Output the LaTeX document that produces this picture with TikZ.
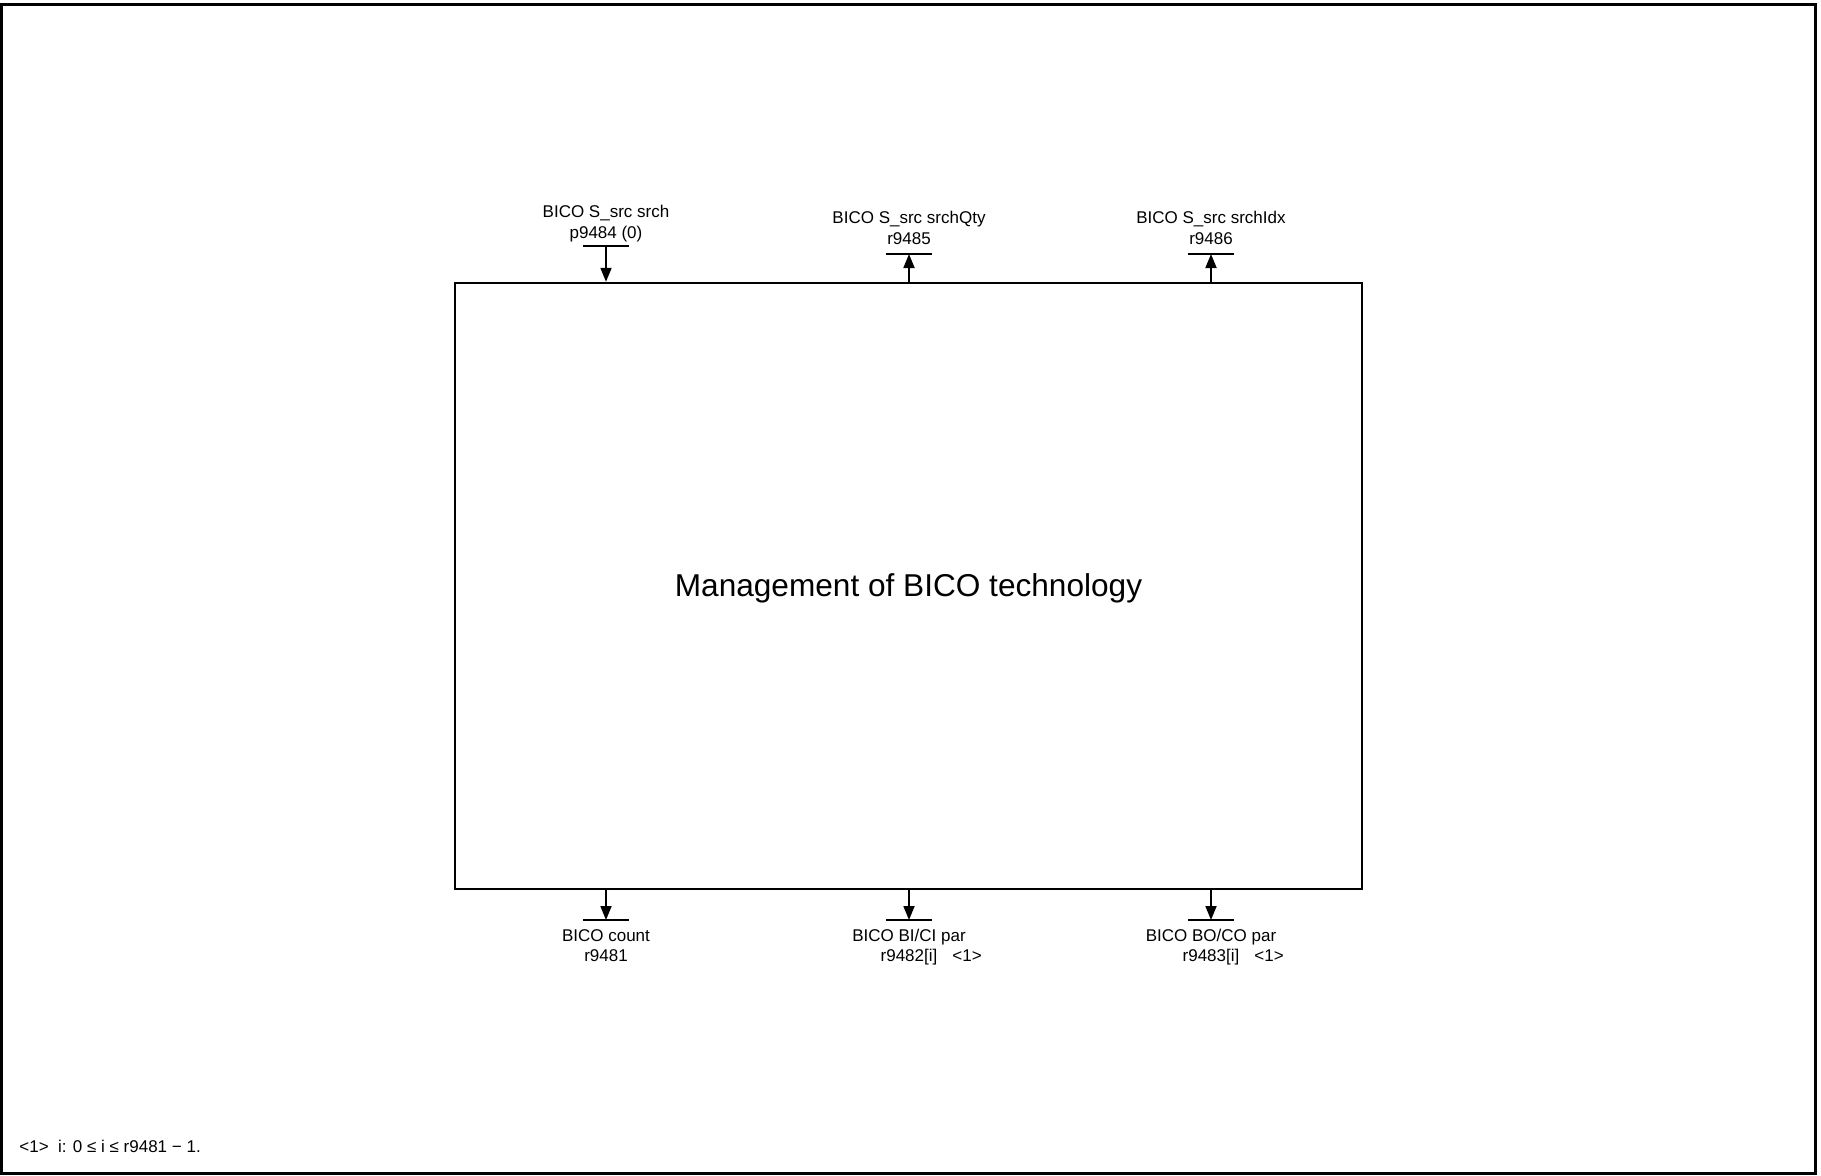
\documentclass[tikz,border=0pt]{standalone}
\usepackage{fontspec}
\setmainfont{Liberation Sans}
\usetikzlibrary{arrows.meta}
\begin{document}
\begin{tikzpicture}[x=0.5pt,y=-0.5pt,
  lbl/.style={font=\fontsize{8.5}{10.5}\selectfont, inner sep=0pt, anchor=base},
  mainbox/.style={draw, line width=1.2pt, minimum width=453.5pt, minimum height=303pt, inner sep=0pt},
  titletext/.style={font=\fontsize{15.8}{19}\selectfont, inner sep=0pt},
  barline/.style={line width=1pt},
  conn/.style={line width=0.9pt, -{Triangle[length=7pt,width=5.5pt]}},
  frameline/.style={line width=1.5pt}]
\useasboundingbox (0,0) rectangle (1821,1175);
\draw[frameline] (1.5,4.5) rectangle (1815.5,1173.5);
\node[mainbox] (box) at (908.5,586) {};
\node[titletext] (title) at ([yshift=-1.3pt]box.center) {Management of BICO technology};
% top connectors
\coordinate (t1) at (606,246);
\coordinate (t2) at (909,254);
\coordinate (t3) at (1211,254);
\foreach \c in {t1,t2,t3}{
  \draw[barline] ([xshift=-11.5pt]\c) -- ([xshift=11.5pt]\c);
}
\draw[conn] (t1) -- (t1 |- box.north);
\draw[conn] (t2 |- box.north) -- (t2);
\draw[conn] (t3 |- box.north) -- (t3);
% bottom connectors
\coordinate (b1) at (606,920);
\coordinate (b2) at (909,920);
\coordinate (b3) at (1211,920);
\foreach \c in {b1,b2,b3}{
  \draw[barline] ([xshift=-11.5pt]\c) -- ([xshift=11.5pt]\c);
  \draw[conn] (\c |- box.south) -- (\c);
}
% labels
\node[lbl] (t1a) at (606,217) {BICO S\_src srch};
\node[lbl] (t1b) at (606,238) {p9484 (0)};
\node[lbl] (t2a) at (909,223) {BICO S\_src srchQty};
\node[lbl] (t2b) at (909,244) {r9485};
\node[lbl] (t3a) at (1211,223) {BICO S\_src srchIdx};
\node[lbl] (t3b) at (1211,244) {r9486};
\node[lbl] (b1a) at (606,941) {BICO count};
\node[lbl] (b1b) at (606,961) {r9481};
\node[lbl] (b2a) at (909,941) {BICO BI/CI par};
\node[lbl] (b2b) at (909,961) {r9482[i]};
\node[lbl, anchor=base west] (b2c) at (952,961) {<1>};
\node[lbl] (b3a) at (1211,941) {BICO BO/CO par};
\node[lbl] (b3b) at (1211,961) {r9483[i]};
\node[lbl, anchor=base west] (b3c) at (1254,961) {<1>};
\node[lbl, anchor=base west] (fn) at (19,1152) {<1>\ \ i: 0 ≤ i ≤ r9481 − 1.};
\end{tikzpicture}
\end{document}
